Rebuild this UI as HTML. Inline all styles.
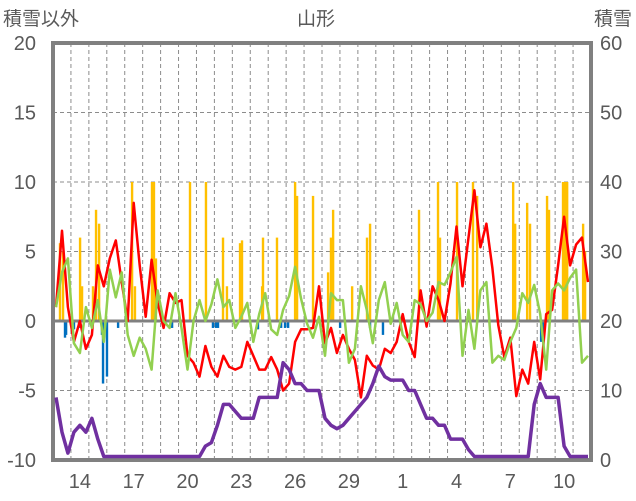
<!DOCTYPE html>
<html><head><meta charset="utf-8">
<style>
html,body{margin:0;padding:0;background:#fff;}
svg{display:block;font-family:"Liberation Sans","Noto Sans CJK JP",sans-serif;}
</style></head>
<body>
<svg id="chart" width="636" height="501" viewBox="0 0 636 501" xmlns="http://www.w3.org/2000/svg">
<text x="3" y="25" font-size="19" fill="#595959">積雪以外</text>
<text x="316" y="25" font-size="19" fill="#595959" text-anchor="middle">山形</text>
<text x="632" y="25" font-size="19" fill="#595959" text-anchor="end">積雪</text>
<g id="grid"></g>
<g id="bars"></g>
<g id="axes"></g>
<g id="lines"></g>
</svg>
<script>
const leftTicks=[20,15,10,5,0,-5,-10];
const rightTicks=[60,50,40,30,20,10,0];
const dayLabels=["14","17","20","23","26","29","1","4","7","10"];
const redSeries=[1,6.5,1,-1.5,0,-2,-1,4,2.5,4.5,5.8,2.8,0,8.5,4,0.3,4.4,1.3,-0.5,2,1.3,1.5,-2.5,-3,-4,-1.8,-3.3,-4,-2.5,-3.3,-3.5,-3.3,-1.5,-2.5,-3.5,-3.5,-2.6,-3.5,-5,-4.5,-1.5,-0.6,-0.6,-0.5,2.5,-1.6,-0.5,-2.3,-1,-2,-2.8,-5.5,-2.5,-3.2,-3.5,-2,-2.3,-1.5,0.5,-1.5,-2.6,2.2,-0.4,2.5,1.5,0,2.7,6.8,2.5,6,9.4,5.3,7,3.8,-0.3,-2.6,-1.2,-5.4,-3.5,-4.5,-1.5,-4.2,0.5,0.8,4,7.5,4,5.5,6,2.8];
const greenSeries=[1,3.5,4.5,-1.6,-2.3,1,-0.5,1.5,-1.5,3.7,1.7,3.5,-1,-2.5,-1.2,-2,-3.5,2.2,0,-0.5,2,-0.5,-3.5,0,1.5,0,1.2,3,1,1.5,-0.5,0.3,1.3,-1.5,0.5,2,-0.6,-1,0.8,1.8,3.9,1.6,-0.2,-1.2,0.3,-2.5,2,1.5,1.5,-3,-2,2.5,0.8,-1.6,1.5,2.8,-0.2,1.3,-1,-1.5,1.5,1.2,0,0.6,2.8,2.6,3.5,4.6,-2.5,0.8,-2,2.2,2.8,-3,-2.5,-2.8,-1.5,-0.5,2,1.3,2.6,0.5,-3.5,2.2,2.7,2.2,3.1,3.7,-3,-2.5];
const snowSeries=[9,4,1,4,5,4,6,3,0,0,0,0,0,0,0,0,0,0,0,0,0,0,0,0,0,2,2.5,5,8,8,7,6,6,6,9,9,9,9,14,13,11,11,10,10,10,6,5,4.5,5,6,7,8,9,11,13.5,12,11.5,11.5,11.5,10,10,8,6,6,5,5,3,3,3,1.5,0,0,0,0,0,0,0,0,0,0,8,11,9,9,9,2,0,0,0,0];
const yellowDays=[0.39,0.56,1.51,1.62,2.23,2.40,2.57,4.41,4.57,5.52,5.63,5.74,7.64,8.53,9.48,9.70,10.43,10.54,11.66,11.71,12.49,13.50,13.61,14.50,15.34,15.50,15.62,16.68,17.51,17.68,20.41,21.47,21.58,22.53,23.42,23.65,25.66,25.77,26.44,26.60,27.55,27.66,28.44,28.55,28.67,29.56,29.67];
const yellowValues=[5.6,5,6,2.5,2.5,8,7,10,2.5,10,10,4.5,10,10,6,2.5,5.6,5.8,2.5,6,6,10,9,9,3.5,6,8,2.5,6,7,8,10,6,10,10,9,10,7,8.5,7,9,8,10,10,10,7,5];
const blueDays=[0.67,0.73,1.17,1.45,2.73,2.79,3.01,3.63,6.64,8.92,9.09,9.20,11.43,12.72,12.94,13.11,16.01,17.68,18.40,27.22,27.33];
const blueValues=[-1.2,-1,-0.6,-0.5,-1,-4.5,-4,-0.5,-0.5,-0.5,-0.5,-0.5,-0.6,-0.5,-0.5,-0.5,-0.5,-0.5,-1,-1.5,-1.5];

const X0=53,X1=591,Y0=43,Y1=460,DAYS=30;
const NS="http://www.w3.org/2000/svg";
const xDay=t=>X0+t*(X1-X0)/DAYS;
const xIdx=i=>xDay((i+0.5)/3);
const yL=v=>Y1-(v+10)*(Y1-Y0)/30;
const yR=v=>Math.min(Y1-(v)*(Y1-Y0)/60,Y1-3.5);
function mk(tag,attrs,parent){const e=document.createElementNS(NS,tag);for(const k in attrs)e.setAttribute(k,attrs[k]);parent.appendChild(e);return e;}
const grid=document.getElementById('grid'),bars=document.getElementById('bars'),lines=document.getElementById('lines'),axes=document.getElementById('axes');

leftTicks.forEach(v=>{
  if(v!==0&&v!==20&&v!==-10){const l=mk('line',{x1:X0,x2:X1,y1:yL(v),y2:yL(v),stroke:'#8c8c8c','stroke-width':1,'stroke-dasharray':'4,3'},grid);
  
  }
  const t=mk('text',{x:36,y:yL(v)+7,'font-size':20,fill:'#595959','text-anchor':'end'},axes);t.textContent=v;
  
  
});
rightTicks.forEach(v=>{
  const t=mk('text',{x:600,y:Y1-v*(Y1-Y0)/60+7,'font-size':20,fill:'#595959'},axes);t.textContent=v;
  
  
});
for(let d=1;d<DAYS;d++){
  const l=mk('line',{x1:xDay(d),x2:xDay(d),y1:Y0,y2:Y1,stroke:'#8c8c8c','stroke-width':1,'stroke-dasharray':'4,3'},grid);
  
  
}
dayLabels.forEach((s,k)=>{
  const t=mk('text',{x:xDay(1+3*k+0.5),y:488,'font-size':20,fill:'#595959','text-anchor':'middle'},axes);t.textContent=s;
  
  
});
yellowDays.forEach((d,k)=>{
  const v=yellowValues[k];const r=mk('rect',{x:xDay(d)-1.2,y:yL(v),width:2.4,height:yL(0)-yL(v),fill:'#ffc000'},bars);
  
  
});
blueDays.forEach((d,k)=>{
  const v=blueValues[k];const r=mk('rect',{x:xDay(d)-1.2,y:yL(0),width:2.4,height:yL(v)-yL(0),fill:'#0070c0'},bars);
  
  
});
const zl=mk('line',{x1:X0,x2:X1,y1:yL(0),y2:yL(0),stroke:'#808080','stroke-width':3},bars);


const fr=mk('rect',{x:X0,y:Y0,width:X1-X0,height:Y1-Y0,fill:'none',stroke:'#808080','stroke-width':4},axes);


function path(arr,yf,color,w,name){
  const d=arr.map((v,i)=>(i?'L':'M')+xIdx(i).toFixed(1)+','+yf(v).toFixed(1)).join('');
  const p=mk('path',{d:d,fill:'none',stroke:color,'stroke-width':w,'stroke-linejoin':'round'},lines);
  
  
}
path(redSeries,yL,'#ff0000',2.5,'red-line');
path(greenSeries,yL,'#92d050',2.5,'green-line');
path(snowSeries,yR,'#7030a0',3.5,'snow-depth-line');
</script>
</body></html>
